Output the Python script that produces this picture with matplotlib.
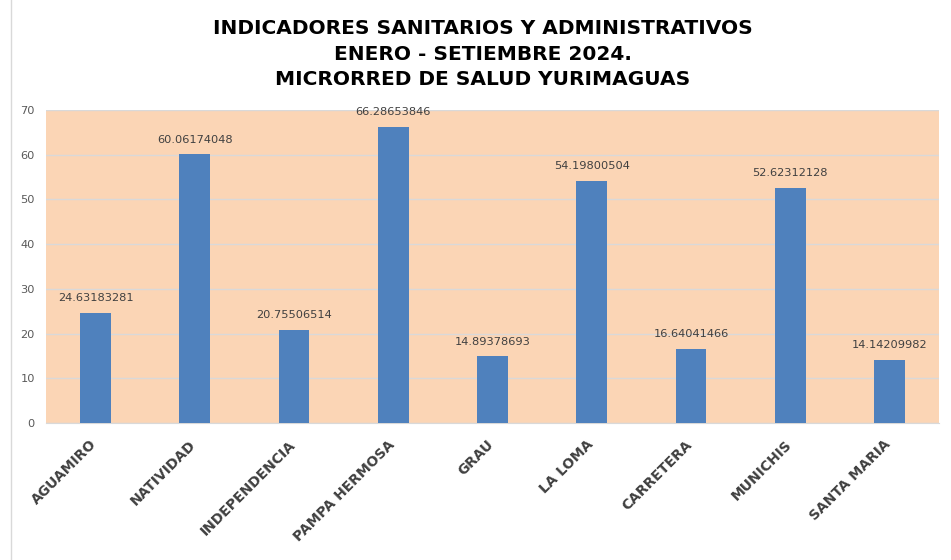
import matplotlib
matplotlib.use("Agg")
import matplotlib.pyplot as plt
from matplotlib.lines import Line2D
from matplotlib.transforms import ScaledTranslation

categories = ["AGUAMIRO", "NATIVIDAD", "INDEPENDENCIA", "PAMPA HERMOSA", "GRAU",
              "LA LOMA", "CARRETERA", "MUNICHIS", "SANTA MARIA"]
values = [24.63183281, 60.06174048, 20.75506514, 66.28653846, 14.89378693,
          54.19800504, 16.64041466, 52.62312128, 14.14209982]
labels = ["24.63183281", "60.06174048", "20.75506514", "66.28653846", "14.89378693",
          "54.19800504", "16.64041466", "52.62312128", "14.14209982"]
yticks = [0, 10, 20, 30, 40, 50, 60, 70]
title = "INDICADORES SANITARIOS Y ADMINISTRATIVOS\nENERO - SETIEMBRE 2024.\nMICRORRED DE SALUD YURIMAGUAS"

W, H = 951, 560
fig = plt.figure(figsize=(W / 100, H / 100), dpi=100)
ax = fig.add_axes([46 / W, 1 - 423 / H, (939 - 46) / W, (423 - 110) / H])
ax.set_facecolor("#FBD5B5")

x = list(range(len(categories)))
ax.bar(x, values, width=0.31, color="#4F81BD", zorder=3)
ax.set_xlim(-0.5, len(categories) - 0.5)
ax.set_ylim(0, 70)
ax.set_yticks(yticks)
ax.set_yticklabels([str(t) for t in yticks], fontsize=8.2, color="#595959",
                   family="DejaVu Sans")
ax.yaxis.grid(True, color="#D9D9D9", linewidth=1.0, zorder=1)
ax.tick_params(axis="y", length=0, pad=8)
ax.tick_params(axis="x", length=0, pad=6)
for s in ["top", "right", "left"]:
    ax.spines[s].set_visible(False)
ax.spines["bottom"].set_color("#D9D9D9")

ax.set_xticks(x)
ax.set_xticklabels(categories, rotation=45, ha="right", rotation_mode="anchor",
                   fontsize=10, fontweight="bold", color="#404040", family="DejaVu Sans")
off = ScaledTranslation(-6 / 100, -6 / 100, fig.dpi_scale_trans)
for t in ax.get_xticklabels():
    t.set_transform(t.get_transform() + off)

for xi, v, lab in zip(x, values, labels):
    ax.annotate(lab, (xi, v), xytext=(0, 7), textcoords="offset points",
                ha="center", va="bottom", fontsize=8.2, color="#404040",
                family="DejaVu Sans")

fig.text(483 / W, 1 - 54 / H, title, ha="center", va="center", fontsize=14.5,
         fontweight="bold", color="black", linespacing=1.42, family="DejaVu Sans")

fig.add_artist(Line2D([11 / W, 11 / W], [0, 1], transform=fig.transFigure,
                      color="#D9D9D9", linewidth=1))

fig.savefig("out.png", dpi=100, facecolor="white")
